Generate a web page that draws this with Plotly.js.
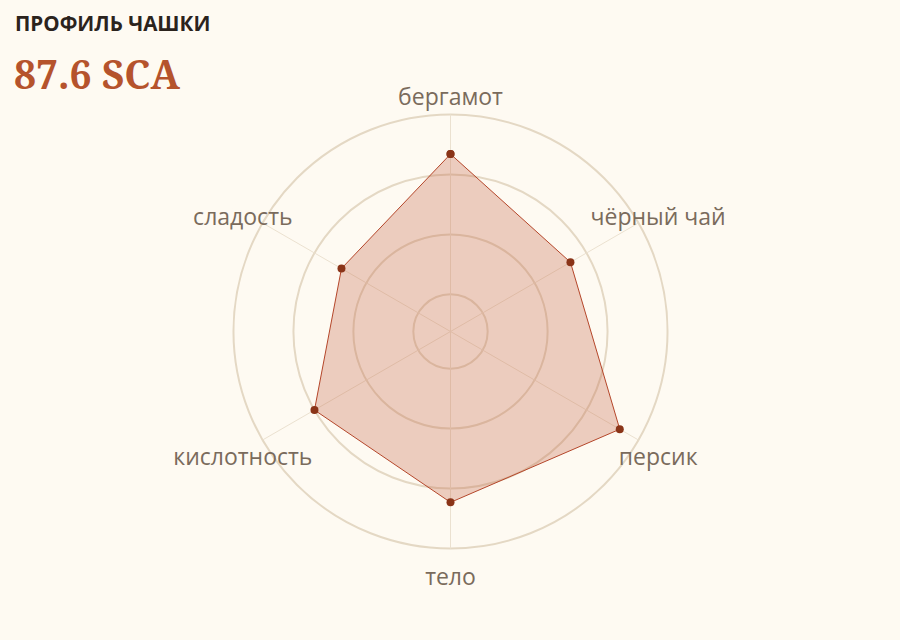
<!DOCTYPE html>
<html>
<head>
<meta charset="utf-8">
<script src="https://cdn.plot.ly/plotly-3.0.1.min.js"></script>
<style>
  html, body { margin: 0; padding: 0; background: #fefaf2; }
  #chart { width: 900px; height: 640px; }
</style>
</head>
<body>
<div id="chart"></div>
<script>
// cup profile scores
const notes = ['бергамот', 'чёрный чай', 'персик', 'тело', 'кислотность', 'сладость'];
const scores = [9.34, 8.69, 9.64, 9.23, 9.0, 8.48];
const gridTicks = [7, 8, 9, 10];
const scoreTotal = '87.6 SCA';

const bg = '#fefaf2';
const rMin = 6.38, rOuter = 10;
const rMax = 10.55;   // leave room past the outer ring for the labels
const labelR = 10.38;

// close the polygon
let theta = notes.concat([notes[0]]);
let r = scores.concat([scores[0]]);

// spokes from centre to outer ring
let spokeR = [], spokeTheta = [];
notes.forEach(n => {
  spokeR.push(rMin, rOuter, null);
  spokeTheta.push(n, n, null);
});

let spokeTrace = {
  type: 'scatterpolar',
  r: spokeR,
  theta: spokeTheta,
  mode: 'lines',
  line: { color: '#ebe1d0', width: 1 },
  connectgaps: false,
  hoverinfo: 'skip'
};

let profileTrace = {
  type: 'scatterpolar',
  r: r,
  theta: theta,
  mode: 'lines+markers',
  fill: 'toself',
  fillcolor: 'rgba(196,100,68,0.3)',
  line: { color: '#b4462a', width: 1 },
  marker: { color: '#8a3418', size: 8 },
  hoverinfo: 'skip'
};

// labels live on a twin polar nudged down a little so text centres line up
let labelTrace = {
  type: 'scatterpolar',
  subplot: 'polar2',
  r: notes.map(() => labelR),
  theta: notes,
  mode: 'text',
  text: notes,
  textposition: 'middle center',
  textfont: { family: 'Open Sans, sans-serif', size: 23, color: '#7a6b5c' },
  cliponaxis: false,
  hoverinfo: 'skip'
};

let angular = {
  type: 'category',
  categoryarray: notes,
  direction: 'clockwise',
  rotation: 90,
  ticks: '',
  showticklabels: false,
  showline: false,
  showgrid: false,
  layer: 'below traces'
};

let layout = {
  width: 900,
  height: 640,
  paper_bgcolor: bg,
  plot_bgcolor: bg,
  margin: { l: 0, r: 0, t: 0, b: 0 },
  showlegend: false,
  font: { family: 'Open Sans, sans-serif' },
  polar: {
    bgcolor: bg,
    domain: { x: [200.5 / 900, 700.5 / 900], y: [58.5 / 640, 558.5 / 640] },
    radialaxis: {
      range: [rMin, rMax],
      tickvals: gridTicks,
      showticklabels: false,
      ticks: '',
      showline: false,
      gridcolor: '#e4d8c4',
      gridwidth: 2,
      layer: 'below traces'
    },
    angularaxis: angular
  },
  polar2: {
    bgcolor: 'rgba(0,0,0,0)',
    domain: { x: [200.5 / 900, 700.5 / 900], y: [50.5 / 640, 550.5 / 640] },
    radialaxis: {
      range: [rMin, rMax],
      visible: false,
      showgrid: false
    },
    angularaxis: angular
  },
  annotations: [
    {
      text: '<b>ПРОФИЛЬ ЧАШКИ</b>',
      xref: 'paper', yref: 'paper',
      x: 13 / 900, y: 1 - 23 / 640,
      xanchor: 'left', yanchor: 'middle',
      showarrow: false,
      font: { family: 'Open Sans, sans-serif', size: 20.6, color: '#2b231d' }
    },
    {
      text: '<b>' + scoreTotal + '</b>',
      xref: 'paper', yref: 'paper',
      x: 12 / 900, y: 1 - 74 / 640,
      xanchor: 'left', yanchor: 'middle',
      showarrow: false,
      font: { family: 'Noto Serif, Liberation Serif, serif', size: 39, color: '#b5532c' }
    }
  ]
};

Plotly.newPlot('chart', [spokeTrace, profileTrace, labelTrace], layout, { staticPlot: true });
</script>
</body>
</html>
